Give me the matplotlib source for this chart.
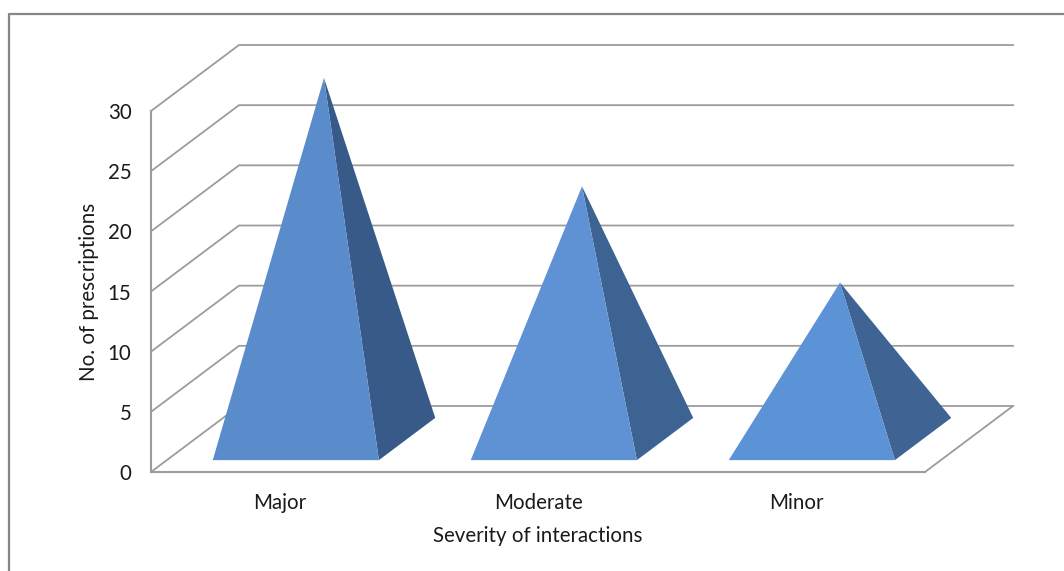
import matplotlib
matplotlib.use("Agg")
import matplotlib.pyplot as plt
from matplotlib.lines import Line2D

# Interaction counts by severity
categories = ["Major", "Moderate", "Minor"]
prescriptions = [30, 21, 13]
y_ticks = [0, 5, 10, 15, 20, 25, 30]

front_colours = ["#5A8BCB", "#5E92D5", "#5C92D6"]
side_colours = ["#385A88", "#3C6391", "#3F6493"]
grid_colour = "#9C9C9C"
text_colour = "#1A1A1A"

W, H = 1064, 571
plt.rcParams["font.family"] = ["Lato", "DejaVu Sans"]

fig = plt.figure(figsize=(W / 100, H / 100), dpi=100, facecolor="white")
ax = fig.add_axes([151 / W, 1 - 472 / H, 774 / W, 361 / H])
ax.set_xlim(-0.5, 2.5)
ax.set_ylim(0, 30)
ax.patch.set_visible(False)

# oblique depth of the chart box, in data units
depth_x = 88 / 258
depth_y = 66 / (361 / 30)


def project(x, y, d):
    return x + d * depth_x, y + d * depth_y


# walls and floor
x0, x1 = ax.get_xlim()
for t in y_ticks:
    bx0, by = project(x0, t, 1)
    bx1, by = project(x1, t, 1)
    ax.plot([x0, bx0, bx1], [t, by, by], color=grid_colour, lw=1.3, clip_on=False, zorder=1)
fx, fy = project(x1, 0, 1)
ax.plot([x1, fx], [0, fy], color=grid_colour, lw=1.3, clip_on=False, zorder=1)

for side in ["top", "right"]:
    ax.spines[side].set_visible(False)
for side in ["left", "bottom"]:
    ax.spines[side].set_color(grid_colour)
    ax.spines[side].set_linewidth(1.5)

# pyramids
half_w = 0.322
d_front, d_back = 0.18, 0.82
d_mid = (d_front + d_back) / 2
for i, val in enumerate(prescriptions):
    apex = project(i, val, d_mid)
    fl = project(i - half_w, 0, d_front)
    fr = project(i + half_w, 0, d_front)
    br = project(i + half_w, 0, d_back)
    ax.fill(*zip(br, fr, apex), color=side_colours[i], lw=0, clip_on=False, zorder=3)
    ax.fill(*zip(fl, fr, apex), color=front_colours[i], lw=0, clip_on=False, zorder=4)

ax.set_xticks(range(len(categories)))
ax.set_xticklabels(categories)
ax.set_yticks(y_ticks)
ax.tick_params(axis="both", length=0, labelsize=14.8, labelcolor=text_colour)
ax.tick_params(axis="x", pad=15)
ax.tick_params(axis="y", pad=14)

ax.set_xlabel("Severity of interactions", fontsize=14.8, color=text_colour)
ax.xaxis.set_label_coords(0.5, -63.5 / 361, transform=ax.transAxes)
ax.xaxis.label.set_va("center")
ax.set_ylabel("No. of prescriptions", fontsize=14.8, color=text_colour)
ax.yaxis.set_label_coords(-62 / 774, 0.5, transform=ax.transAxes)
ax.yaxis.label.set_va("center")

# outer chart border, runs off the right and bottom edges
border = Line2D([9 / W, 9 / W, 1], [0, 1 - 14 / H, 1 - 14 / H],
                transform=fig.transFigure, color="#868686", lw=1.6)
fig.add_artist(border)

fig.savefig("out.png", dpi=100)
